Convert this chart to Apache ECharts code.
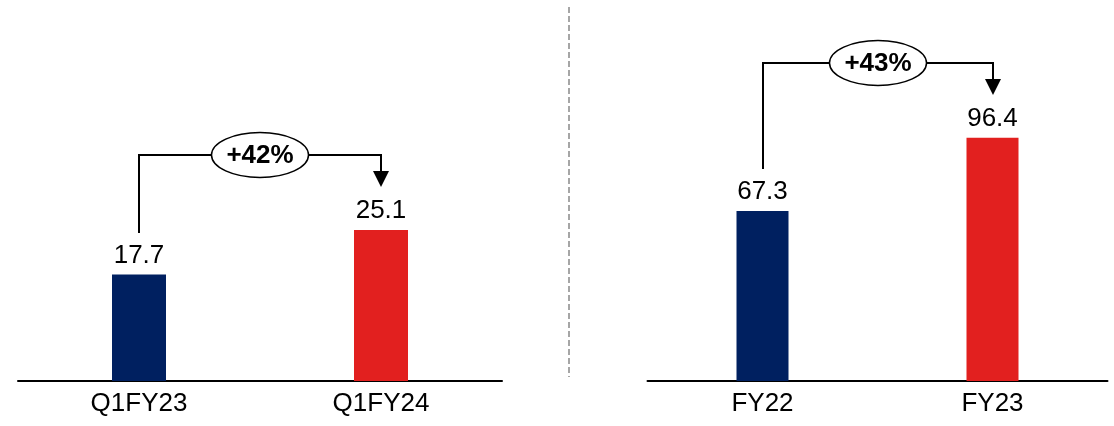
<!DOCTYPE html>
<html>
<head>
<meta charset="utf-8">
<script src="https://cdn.jsdelivr.net/npm/echarts@6/dist/echarts.min.js"></script>
<style>
  html, body { margin: 0; padding: 0; background: #fff; }
  #main { width: 1114px; height: 426px; }
</style>
</head>
<body>
<div id="main"></div>
<script>
// Quarterly comparison (left) and full-year comparison (right)
const leftCategories = ['Q1FY23', 'Q1FY24'];
const leftValues = [17.7, 25.1];
const rightCategories = ['FY22', 'FY23'];
const rightValues = [67.3, 96.4];
const growthLabels = ['+42%', '+43%'];

const NAVY = '#002060';
const RED = '#e2201f';
const FONT = '"Liberation Sans", Arial, sans-serif';

const chart = echarts.init(document.getElementById('main'), null, { renderer: 'canvas' });

function barData(values) {
  return values.map((v, i) => ({ value: v, itemStyle: { color: i === 0 ? NAVY : RED } }));
}

const labelStyle = {
  show: true,
  position: 'top',
  distance: 6,
  color: '#000',
  fontFamily: FONT,
  fontSize: 26
};

function xAxis(gridIndex, cats) {
  return {
    type: 'category',
    gridIndex: gridIndex,
    data: cats,
    axisTick: { show: false },
    axisLine: { lineStyle: { color: '#000', width: 2 } },
    axisLabel: { color: '#000', fontFamily: FONT, fontSize: 26, margin: 10 }
  };
}

function yAxis(gridIndex, max) {
  return {
    type: 'value',
    gridIndex: gridIndex,
    min: 0,
    max: max,
    show: false,
    splitLine: { show: false }
  };
}

chart.setOption({
  animation: false,
  grid: [
    { left: 18, width: 484, top: 20, bottom: 45 },
    { left: 647.5, width: 460, top: 20, bottom: 45 }
  ],
  xAxis: [xAxis(0, leftCategories), xAxis(1, rightCategories)],
  yAxis: [yAxis(0, 60), yAxis(1, 143)],
  series: [
    { type: 'bar', xAxisIndex: 0, yAxisIndex: 0, barWidth: 54, data: barData(leftValues), label: labelStyle },
    { type: 'bar', xAxisIndex: 1, yAxisIndex: 1, barWidth: 52, data: barData(rightValues), label: labelStyle }
  ]
});

// Growth brackets: start above the first bar's label, run across,
// and point down at the second bar's label.
function bracket(seriesIndex, cats, values, text) {
  const p0 = chart.convertToPixel({ seriesIndex: seriesIndex }, [cats[0], values[0]]);
  const p1 = chart.convertToPixel({ seriesIndex: seriesIndex }, [cats[1], values[1]]);
  const x0 = Math.round(p0[0]);
  const x1 = Math.round(p1[0]);
  const yStart = Math.round(p0[1] - 42);
  const yTip = Math.round(p1[1] - 43);
  const yTop = Math.round(Math.min(p0[1], p1[1]) - 75);
  const head = 16;
  const cx = (x0 + x1) / 2;
  const stroke = { stroke: '#000', lineWidth: 2, fill: null };
  return [
    {
      type: 'polyline',
      shape: { points: [[x0, yStart], [x0, yTop], [x1, yTop], [x1, yTip - head + 1]] },
      style: stroke,
      z: 10
    },
    {
      type: 'polygon',
      shape: { points: [[x1 - head / 2, yTip - head], [x1 + head / 2, yTip - head], [x1, yTip]] },
      style: { fill: '#000' },
      z: 10
    },
    {
      type: 'ellipse',
      shape: { cx: cx, cy: yTop, rx: 48.5, ry: 22.5 },
      style: { fill: '#fff', stroke: '#000', lineWidth: 1.5 },
      z: 11
    },
    {
      type: 'text',
      x: cx,
      y: yTop + 1,
      style: {
        text: text,
        fill: '#000',
        font: 'bold 26px ' + FONT,
        align: 'center',
        verticalAlign: 'middle'
      },
      z: 12
    }
  ];
}

const divider = {
  type: 'line',
  shape: { x1: 569, y1: 7, x2: 569, y2: 377 },
  style: { stroke: '#a6a6a6', lineWidth: 2, lineDash: [6, 3] },
  z: 5
};

chart.setOption({
  graphic: {
    elements: [divider]
      .concat(bracket(0, leftCategories, leftValues, growthLabels[0]))
      .concat(bracket(1, rightCategories, rightValues, growthLabels[1]))
  }
});
</script>
</body>
</html>
